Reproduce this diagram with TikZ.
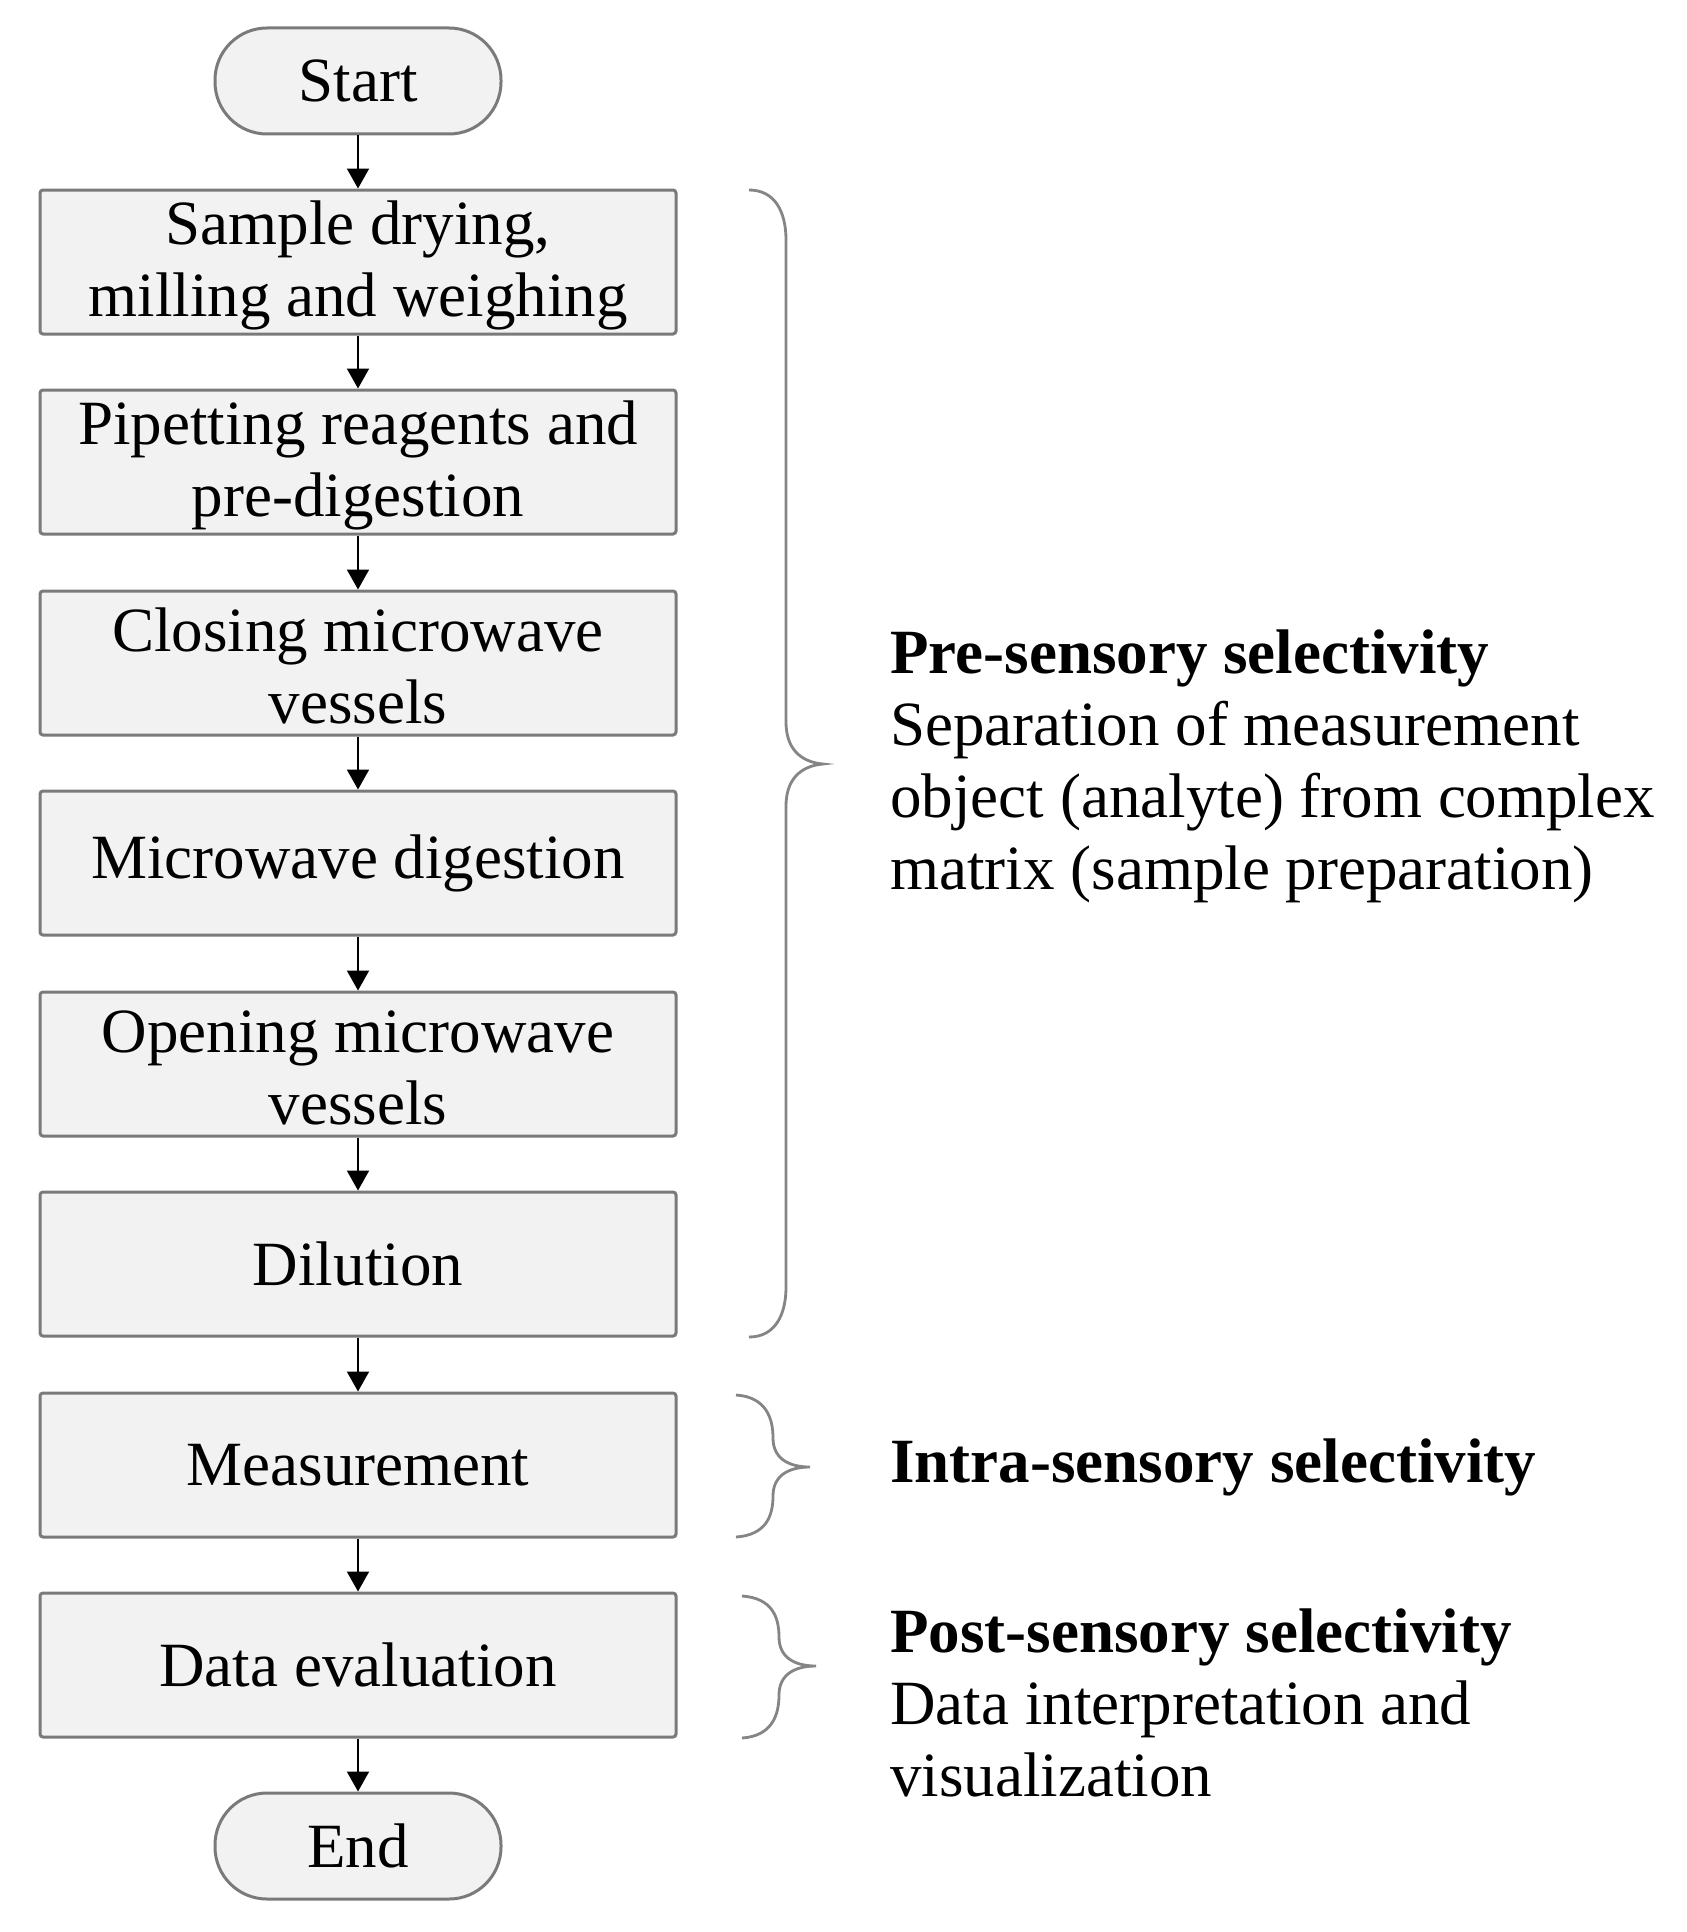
\documentclass[tikz,border=0pt]{standalone}
\usepackage{fontspec}
\setmainfont{Liberation Serif}
\usetikzlibrary{arrows.meta}
\definecolor{boxfill}{HTML}{F2F2F2}
\definecolor{boxline}{HTML}{7A7A7A}
\definecolor{bracecol}{HTML}{858585}
\tikzset{
  txt/.style={font=\fontsize{31.5}{36}\selectfont},
  stepbox/.style={txt, draw=boxline, fill=boxfill, line width=1.5pt, rounded corners=1.5pt,
    minimum width=318pt, minimum height=72pt, inner sep=0pt, align=center},
  terminal/.style={txt, draw=boxline, fill=boxfill, line width=1.5pt, rounded corners=26pt,
    minimum width=143pt, minimum height=53pt, inner sep=0pt, align=center},
  flow/.style={line width=1pt, -{Triangle[length=10pt,width=11pt]}},
  bracepath/.style={draw=bracecol, line width=1.4pt},
  side/.style={txt, anchor=west, align=left, inner sep=0pt}
}
\begin{document}
\begin{tikzpicture}[x=0.5pt,y=-0.5pt]
\path[use as bounding box, fill=white] (0,0) rectangle (1686,1932);
\node[terminal] (start) at (358,81) {Start};
\node[stepbox] (b1) at (358,262) {\strut Sample drying,\\milling and weighing};
\node[stepbox] (b2) at (358,462) {\strut Pipetting reagents and\\pre-digestion};
\node[stepbox] (b3) at (358,663) {\strut Closing microwave\\vessels};
\node[stepbox] (b4) at (358,863) {Microwave digestion};
\node[stepbox] (b5) at (358,1064) {\strut Opening microwave\\vessels};
\node[stepbox] (b6) at (358,1264) {Dilution};
\node[stepbox] (b7) at (358,1465) {Measurement};
\node[stepbox] (b8) at (358,1665) {Data evaluation};
\node[terminal] (end) at (358,1846) {End};
\foreach \a/\b in {start/b1,b1/b2,b2/b3,b3/b4,b4/b5,b5/b6,b6/b7,b7/b8,b8/end}
  \draw[flow] (\a.south) -- (\b.north);
% braces
\draw[bracepath] (749,190) .. controls (775,190) and (786,212) .. (786,240)
  -- (786,722) .. controls (786,748) and (800,762) .. (823,764)
  .. controls (800,766) and (786,780) .. (786,806)
  -- (786,1287) .. controls (786,1315) and (775,1337) .. (749,1337);
\draw[bracepath] (736,1395) .. controls (766,1397) and (773,1418) .. (773,1438)
  .. controls (773,1458) and (788,1467) .. (810,1467)
  .. controls (788,1467) and (773,1476) .. (773,1496)
  .. controls (773,1516) and (766,1535) .. (736,1537);
\draw[bracepath] (742,1596) .. controls (772,1598) and (779,1617) .. (779,1637)
  .. controls (779,1657) and (794,1666) .. (816,1666)
  .. controls (794,1666) and (779,1675) .. (779,1695)
  .. controls (779,1715) and (772,1736) .. (742,1738);
\node[side] (pre) at (890,766) {\textbf{Pre-sensory selectivity}\\Separation of measurement\\object (analyte) from complex\\matrix (sample preparation)};
\node[side] (intra) at (890,1467) {\textbf{Intra-sensory selectivity}};
\node[side] (post) at (890,1703) {\textbf{Post-sensory selectivity}\\Data interpretation and\\visualization};
\end{tikzpicture}
\end{document}
